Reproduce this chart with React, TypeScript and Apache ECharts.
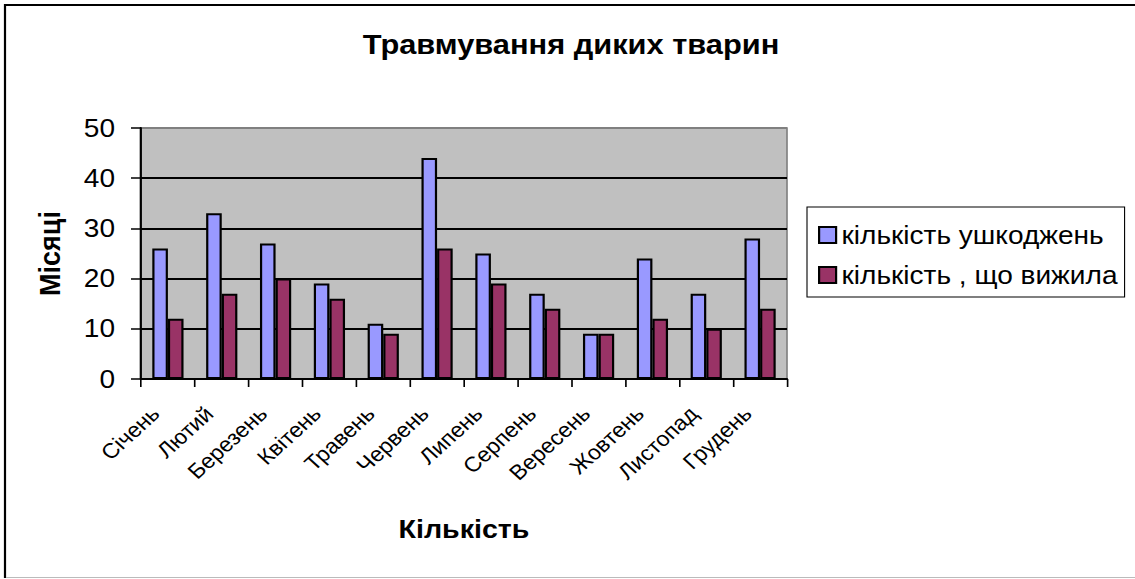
import React, { useEffect, useRef } from "react";
import * as echarts from "echarts";

const categories = [
  "Січень", "Лютий", "Березень", "Квітень", "Травень", "Червень",
  "Липень", "Серпень", "Вересень", "Жовтень", "Листопад", "Грудень",
];
const injured = [26, 33, 27, 19, 11, 44, 25, 17, 9, 24, 17, 28];
const survived = [12, 17, 20, 16, 9, 26, 19, 14, 9, 12, 10, 14];
const seriesNames = ["кількість ушкоджень", "кількість , що вижила"];
const titleText = "Травмування диких тварин";
const xAxisName = "Кількість";
const yAxisName = "Місяці";

const FONT = "'Liberation Sans', Arial, sans-serif";
// the reference is stretched horizontally; draw narrower and stretch
const S = 1.1;
const W = 1135 / S;
const H = 579;
const px = (v: number) => v / S;

export default function App() {
  const ref = useRef<HTMLDivElement>(null);
  useEffect(() => {
    if (!ref.current) return;
    const chart = echarts.init(ref.current, null, { renderer: "svg" });
    chart.setOption({
      animation: false,
      backgroundColor: "#ffffff",
      textStyle: { fontFamily: FONT },
      graphic: [
        {
          type: "text",
          x: px(571),
          y: 44,
          style: {
            text: titleText,
            font: `bold 28px ${FONT}`,
            fill: "#000",
            textAlign: "center",
            textVerticalAlign: "middle",
          },
        },
        {
          type: "line",
          shape: { x1: px(5), y1: 5, x2: W, y2: 5 },
          style: { stroke: "#000", lineWidth: 2 },
        },
        {
          type: "line",
          shape: { x1: px(5), y1: 4, x2: px(5), y2: 578 },
          style: { stroke: "#000", lineWidth: 2 },
        },
        {
          type: "line",
          shape: { x1: px(6), y1: 577.5, x2: W, y2: 577.5 },
          style: { stroke: "#bbbbbb", lineWidth: 1 },
        },
      ],
      legend: {
        orient: "vertical",
        left: px(807),
        top: 207,
        padding: [13, px(7), 7, px(11)],
        itemGap: 10,
        itemWidth: px(17),
        itemHeight: 16,
        itemTextGap: px(9),
        borderColor: "#000",
        borderWidth: 1,
        icon: "rect",
        textStyle: { fontSize: 25.5, color: "#000", fontFamily: FONT, lineHeight: 30 },
        data: seriesNames,
      },
      grid: {
        left: px(141),
        top: 128,
        width: px(646),
        height: 251,
        show: true,
        backgroundColor: "#c0c0c0",
        borderColor: "#808080",
        borderWidth: 1.5,
      },
      xAxis: {
        type: "category",
        data: categories,
        name: xAxisName,
        nameLocation: "middle",
        nameGap: 137,
        nameTextStyle: { fontSize: 26, fontWeight: "bold", color: "#000", fontFamily: FONT },
        axisLine: { lineStyle: { color: "#000", width: 2 } },
        axisTick: { show: true, length: 8, lineStyle: { color: "#000", width: 1.5 } },
        axisLabel: {
          rotate: 45,
          fontSize: 21,
          color: "#000",
          margin: 20,
          padding: [0, 16, 0, 0],
          fontFamily: FONT,
          interval: 0,
        },
      },
      yAxis: {
        type: "value",
        min: 0,
        max: 50,
        interval: 10,
        name: yAxisName,
        nameLocation: "middle",
        nameRotate: 90,
        nameGap: px(77),
        nameTextStyle: { fontSize: 27, fontWeight: "bold", color: "#000", fontFamily: FONT },
        axisLine: { show: true, lineStyle: { color: "#000", width: 2 } },
        axisTick: { show: true, length: px(10), lineStyle: { color: "#000", width: 1.5 } },
        axisLabel: { fontSize: 25.5, color: "#000", margin: px(26), fontFamily: FONT },
        splitLine: {
          show: true,
          lineStyle: {
            color: ["#000", "#000", "#000", "#000", "#000", "#808080"],
            width: 2,
          },
        },
      },
      series: [
        {
          name: seriesNames[0],
          type: "bar",
          data: injured,
          barGap: "0%",
          barCategoryGap: "42%",
          itemStyle: { color: "#9999ff", borderColor: "#000", borderWidth: 2 },
        },
        {
          name: seriesNames[1],
          type: "bar",
          data: survived,
          itemStyle: { color: "#993366", borderColor: "#000", borderWidth: 2 },
        },
      ],
    });
    return () => chart.dispose();
  }, []);
  return (
    <div
      style={{
        position: "absolute",
        left: 0,
        top: 0,
        width: 1135,
        height: H,
        overflow: "hidden",
      }}
    >
      <div
        ref={ref}
        style={{
          width: W,
          height: H,
          transform: `scaleX(${S})`,
          transformOrigin: "0 0",
        }}
      />
    </div>
  );
}
